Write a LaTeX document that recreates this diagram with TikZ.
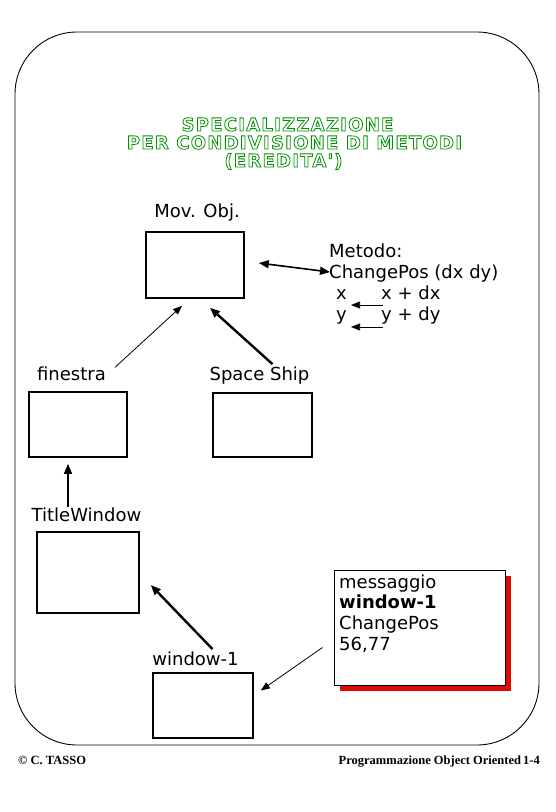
\documentclass[tikz,border=0pt]{standalone}
\usepackage{fontspec}
\setmainfont{DejaVu Sans}
\newfontfamily\titlefont{DejaVu Sans}[LetterSpace=7]
\newfontfamily\footfont{Liberation Serif}
\usetikzlibrary{arrows.meta,shadows}
\definecolor{titleGreen}{RGB}{0,145,0}
\definecolor{shadowRed}{RGB}{222,10,10}
\newcommand{\outlined}[1]{\special{pdf:literal direct 1 Tr 0.8 w}#1\special{pdf:literal direct 0 Tr}}

\tikzset{
  objbox/.style={draw, line width=1.6pt, inner sep=0pt},
  lbl/.style={font=\fontsize{18}{21}\selectfont, inner sep=0pt, anchor=base},
  lbll/.style={font=\fontsize{18}{21}\selectfont, inner sep=0pt, anchor=base west},
  titletxt/.style={font=\titlefont\bfseries\fontsize{18}{18}\selectfont, text=titleGreen, inner sep=0pt, anchor=base},
  foot/.style={font=\footfont\bfseries\fontsize{12.5}{14}\selectfont, inner sep=0pt},
  thinarr/.style={-{Triangle[length=9pt,width=7pt]}, line width=0.8pt},
  medarr/.style={-{Triangle[length=10pt,width=8pt]}, line width=1.6pt},
  thickarr/.style={-{Triangle[length=10pt,width=8pt]}, line width=2.4pt},
}

\begin{document}
\begin{tikzpicture}[x=1pt,y=-1pt]
  \useasboundingbox (0,0) rectangle (556,812);
  \draw[line width=0.9pt, rounded corners=62pt] (15,32) rectangle (539,745);

  \node[titletxt] (tit1) at (287.5,131) {\outlined{SPECIALIZZAZIONE}};
  \node[titletxt] (tit2) at (294.5,149) {\outlined{PER CONDIVISIONE DI METODI}};
  \node[titletxt] (tit3) at (283.5,167) {\outlined{(EREDITA')}};

  \node[lbl] (movlbl) at (197,217) {Mov. Obj.};
  \node[objbox, minimum width=98pt, minimum height=66pt] (movobj) at (195,265) {};

  \node[lbll] (metodo) at (329,257) {Metodo:};
  \node[lbll] (chpos) at (329,278) {ChangePos (dx dy)};
  \node[lbll] (xold) at (336,299) {x};
  \node[lbll] (xnew) at (381,299) {x + dx};
  \node[lbll] (yold) at (336,320) {y};
  \node[lbll] (ynew) at (381,320) {y + dy};

  \node[lbl] (finlbl) at (71.5,380) {finestra};
  \node[objbox, minimum width=98pt, minimum height=65pt] (finestra) at (78,424.5) {};
  \node[lbl] (sslbl) at (259.5,380) {Space Ship};
  \node[objbox, minimum width=99pt, minimum height=64pt] (spaceship) at (262.5,425) {};

  \node[lbl] (twlbl) at (86.5,521) {TitleWindow};
  \node[objbox, minimum width=102pt, minimum height=81pt] (titlewin) at (88,572.5) {};

  \node[lbl] (w1lbl) at (195.5,665) {window-1};
  \node[objbox, minimum width=100pt, minimum height=65pt] (window1) at (203,705.5) {};

  \node[draw, line width=1pt, fill=white, minimum width=171pt, minimum height=115pt,
    drop shadow={shadow xshift=6pt, shadow yshift=-6pt, opacity=1, fill=shadowRed}]
    (msgbox) at (419.5,627.5) {};
  \node[lbll] (msg1) at (339,588) {messaggio};
  \node[lbll, font=\bfseries\fontsize{18}{21}\selectfont] (msg2) at (339,608) {window-1};
  \node[lbll] (msg3) at (339,629) {ChangePos};
  \node[lbll] (msg4) at (339,650) {56,77};

  \node[foot, anchor=base west] (copy) at (18,764) {© C. TASSO};
  \node[foot, anchor=base east] (course) at (540,764) {Programmazione Object Oriented\,1-4};

  \draw[thinarr] ([shift={(9,-6)}]finlbl.east) -- ([shift={(-13,7)}]movobj.south);
  \draw[thickarr] ([shift={(13,-2)}]sslbl.north) -- ([shift={(15,9)}]movobj.south);
  \draw[medarr, {Triangle[length=10pt,width=8pt]}-{Triangle[length=10pt,width=8pt]}]
    ([shift={(14,-2)}]movobj.east) -- ([shift={(1,-1)}]chpos.west);
  \draw[thinarr] ([shift={(2,6)}]xnew.base west) -- ([shift={(4,6)}]xold.base east);
  \draw[thinarr] ([shift={(2,7)}]ynew.base west) -- ([shift={(4,7)}]yold.base east);
  \draw[medarr] ([xshift=-18.5pt]twlbl.north) -- ([shift={(-10,6)}]finestra.south);
  \draw[thickarr] ([shift={(17,-2)}]w1lbl.north) -- ([shift={(11,12.5)}]titlewin.east);
  \draw[thinarr] ([shift={(-11,20)}]msgbox.west) -- ([shift={(7,-15)}]window1.east);
\end{tikzpicture}
\end{document}
